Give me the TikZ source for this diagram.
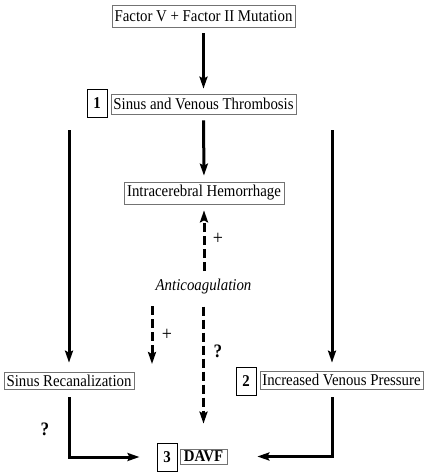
\documentclass[tikz,border=0pt]{standalone}
\usepackage{fontspec}
\setmainfont{Liberation Serif}[FakeStretch=0.9]
\usetikzlibrary{arrows.meta}
\begin{document}
\begin{tikzpicture}[x=1pt,y=-1pt,
  fs/.style={font=\fontsize{16.5}{18}\selectfont},
  txtbox/.style={draw=black!55,line width=0.7pt,inner sep=0pt,fs},
  numbox/.style={draw=black,line width=1pt,inner sep=0pt,minimum width=20pt,minimum height=28pt,font=\fontsize{16.5}{18}\selectfont\bfseries},
  arr/.style={line width=3pt,-{Stealth[length=12pt,width=8pt,inset=2pt]}},
  darr/.style={arr,dash pattern=on 9pt off 4pt},
  lbl/.style={inner sep=0pt,font=\fontsize{20}{22}\selectfont},
  qlbl/.style={inner sep=0pt,font=\fontsize{19}{21}\selectfont\bfseries}
]
\useasboundingbox (0,0) rectangle (428,475);
\node[txtbox,minimum width=183pt,minimum height=22pt] (top) at (203.5,16) {Factor V + Factor II Mutation};
\node[numbox] (n1) at (97,103) {1};
\node[txtbox,minimum width=185pt,minimum height=20pt] (sinus) at (203.5,104) {Sinus and Venous Thrombosis};
\node[txtbox,minimum width=160pt,minimum height=22pt] (ich) at (204,193) {Intracerebral Hemorrhage};
\node[inner sep=0pt,font=\fontsize{16.5}{18}\selectfont\itshape] (antic) at (203.5,287) {Anticoagulation};
\node[txtbox,minimum width=130pt,minimum height=17pt] (recan) at (69,380.5) {Sinus Recanalization};
\node[numbox] (n2) at (246,381) {2};
\node[txtbox,minimum width=163pt,minimum height=18pt] (ivp) at (341.5,380) {Increased Venous Pressure};
\node[numbox] (n3) at (167,457) {3};
\node[txtbox,minimum width=47pt,minimum height=15pt,font=\fontsize{16.5}{18}\selectfont\bfseries] (davf) at (203.5,456.5) {DAVF};
\node[lbl] (p1) at (218,239) {+};
\node[lbl] (p2) at (167,335) {+};
\node[qlbl] (q1) at (218,351) {?};
\node[qlbl] (q2) at (45,429) {?};
\coordinate (lstart) at (69,130);
\coordinate (rstart) at (332,130);
\coordinate (dstart) at (152,306);
\coordinate (dend) at (152,364);
\coordinate (ustart) at (204,271);
% connectors
\draw[arr,shorten <=6pt,shorten >=5pt] (top.south) -- (sinus.north);
\draw[arr,shorten <=6pt,shorten >=6pt] (sinus.south) -- (ich.north);
\draw[arr,shorten >=9pt] (lstart) -- (recan.north);
\draw[arr,shorten >=8pt] (rstart) -- (rstart |- ivp.north);
\draw[darr,shorten >=6pt] (ustart) -- (ich.south);
\draw[darr] (dstart) -- (dend);
\draw[darr,shorten <=12pt,shorten >=25pt] (antic.south) -- (davf.north);
\draw[arr,shorten <=8pt,shorten >=17pt] (recan.south) |- (n3.west);
\draw[arr,shorten <=8pt,shorten >=30pt] (rstart |- ivp.south) |- (davf.east);
\end{tikzpicture}
\end{document}
